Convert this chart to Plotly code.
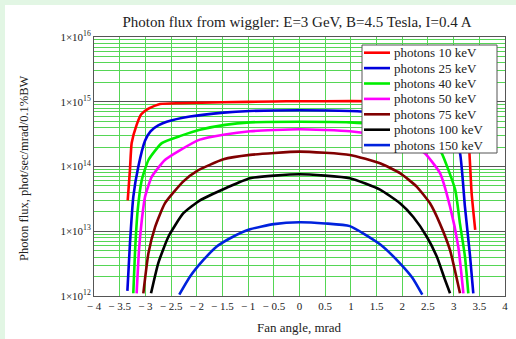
import plotly.graph_objects as go

# ---- data ----
series_names = ["photons 10 keV", "photons 25 keV", "photons 40 keV", "photons 50 keV",
                "photons 75 keV", "photons 100 keV", "photons 150 keV"]
series_colors = ["#ff0000", "#0000dd", "#00ee00", "#ff00ff", "#800000", "#000000", "#0022dd"]

x_10 = [-3.344, -3.30, -3.267, -3.17, -3.08, -2.94, -2.715, -2.33, -1.5, -0.5, 0.0, 0.5, 1.5,
        2.3, 2.7, 2.95, 3.1, 3.23, 3.29, 3.35, 3.42]
y_10 = [3.0e13, 8.9e13, 2.3e14, 4.4e14, 6.4e14, 7.8e14, 9.2e14, 9.5e14, 9.8e14, 1.01e15, 1.02e15,
        1.02e15, 1.02e15, 1.0e15, 9.5e14, 8.5e14, 7.1e14, 4.6e14, 2.6e14, 3.9e13, 1.05e13]

x_25 = [-3.35, -3.30, -3.235, -3.137, -3.007, -2.9, -2.75, -2.585, -2.13, -1.48, -0.963,
        0.0, 0.98, 1.5, 2.13, 2.6, 2.85, 3.0, 3.124, 3.22, 3.32, 3.383]
y_25 = [1.2e12, 6.5e12, 3.4e13, 1.0e14, 2.5e14, 3.5e14, 4.3e14, 4.9e14, 5.9e14, 6.8e14, 7.2e14,
        7.4e14, 7.2e14, 6.8e14, 5.9e14, 4.9e14, 4.0e14, 2.8e14, 1.6e14, 2.4e13, 4.1e12, 1.1e12]

x_40 = [-3.235, -3.2, -3.15, -3.07, -2.94, -2.68, -2.3, -1.94, -1.45, -0.963, 0.0, 0.98,
        1.43, 2.2, 2.5, 2.65, 2.77, 3.03, 3.124, 3.22, 3.286]
y_40 = [1.1e12, 5.1e12, 2.1e13, 6.2e13, 1.26e14, 2.3e14, 3.0e14, 3.7e14, 4.4e14, 4.8e14, 4.9e14,
        4.8e14, 4.5e14, 3.3e14, 2.7e14, 2.2e14, 1.6e14, 4.4e13, 1.3e13, 4.1e12, 1.1e12]

x_50 = [-3.17, -3.124, -3.07, -3.007, -2.877, -2.62, -2.33, -1.94, -1.48, -0.963, 0.0, 0.98,
        1.5, 1.95, 2.2, 2.44, 2.735, 2.93, 3.09, 3.19]
y_50 = [1.1e12, 5.1e12, 1.48e13, 3.4e13, 6.9e13, 1.26e14, 1.78e14, 2.6e14, 3.1e14, 3.5e14, 3.76e14,
        3.5e14, 3.1e14, 2.6e14, 2.1e14, 1.6e14, 7.9e13, 2.4e13, 5.8e12, 1.1e12]

x_75 = [-3.04, -2.94, -2.81, -2.62, -2.26, -2.0, -1.48, -0.963, 0.0, 0.98,
        1.567, 1.956, 2.28, 2.54, 2.735, 2.93, 3.124]
y_75 = [1.1e12, 4.6e12, 1.17e13, 2.7e13, 5.9e13, 8.5e13, 1.29e14, 1.51e14, 1.7e14,
        1.51e14, 1.12e14, 7.9e13, 4.9e13, 2.7e13, 1.3e13, 5.1e12, 1.1e12]

x_100 = [-2.89, -2.75, -2.55, -2.26, -1.937, -1.417, -0.963, 0.0, 0.98, 1.567,
         1.956, 2.215, 2.475, 2.67, 2.83, 2.93]
y_100 = [1.1e12, 3.2e12, 8.3e12, 1.9e13, 3.0e13, 4.7e13, 6.6e13, 7.6e13, 6.6e13,
         4.4e13, 2.7e13, 1.66e13, 8.3e12, 4.1e12, 1.8e12, 1.1e12]

x_150 = [-2.34, -2.13, -1.87, -1.61, -1.35, -0.963, -0.5, 0.0, 0.5, 0.98, 1.567, 1.956, 2.2, 2.39]
y_150 = [1.05e12, 2.0e12, 3.6e12, 5.8e12, 7.8e12, 1.07e13, 1.29e13, 1.38e13, 1.32e13, 1.2e13,
         6.3e12, 3.2e12, 1.9e12, 1.05e12]

x_tick_vals = [-4, -3.5, -3, -2.5, -2, -1.5, -1, -0.5, 0, 0.5, 1, 1.5, 2, 2.5, 3, 3.5, 4]
x_tick_text = ["\u2212 4", "\u2212 3.5", "\u2212 3", "\u2212 2.5", "\u2212 2", "\u2212 1.5",
               "\u2212 1", "\u2212 0.5", "0", "0.5", "1", "1.5", "2", "2.5", "3", "3.5", "4"]
y_tick_vals = [1e12, 1e13, 1e14, 1e15, 1e16]
y_tick_text = ["1\u00d710<sup>12</sup>", "1\u00d710<sup>13</sup>", "1\u00d710<sup>14</sup>",
               "1\u00d710<sup>15</sup>", "1\u00d710<sup>16</sup>"]

title_text = "Photon flux from wiggler: E=3 GeV, B=4.5 Tesla, I=0.4 A"
x_title = "Fan angle, mrad"
y_title = "Photon flux, phot/sec/mrad/0.1%BW"

xs = [x_10, x_25, x_40, x_50, x_75, x_100, x_150]
ys = [y_10, y_25, y_40, y_50, y_75, y_100, y_150]

FONT = "Liberation Serif"
TXT = "#222222"
W, H = 516, 339
L, R, T, B = 94, 11, 37, 43
PW, PH = W - L - R, H - T - B


def px_x(px):
    return (px - L) / PW


def px_y(py):
    return (H - B - py) / PH


fig = go.Figure()
for name, col, x, y in zip(series_names, series_colors, xs, ys):
    fig.add_trace(go.Scatter(x=x, y=y, mode="lines", name=name, showlegend=False,
                             line=dict(color=col, width=2.6, shape="spline", smoothing=0.5)))

grid_green = "#55d655"
fig.update_xaxes(range=[-4, 4], tickvals=x_tick_vals, ticktext=x_tick_text, automargin=False,
                 showgrid=True, gridcolor=grid_green, gridwidth=1,
                 zeroline=False, showline=True, linecolor="#555555", linewidth=1, mirror=True,
                 ticks="", ticklabelstandoff=0, tickfont=dict(family=FONT, size=11, color=TXT))
fig.update_yaxes(type="log", range=[12, 16], tickvals=y_tick_vals, ticktext=y_tick_text,
                 automargin=False,
                 showgrid=True, gridcolor="#555555", gridwidth=1,
                 minor=dict(showgrid=True, gridcolor=grid_green, gridwidth=1, dtick="D1", ticks=""),
                 zeroline=False, showline=True, linecolor="#555555", linewidth=1, mirror=True,
                 ticks="", tickfont=dict(family=FONT, size=11, color=TXT))

# axis titles
fig.add_annotation(text=x_title, xref="paper", yref="paper", x=px_x(299), y=px_y(327),
                   xanchor="center", yanchor="middle",
                   showarrow=False, font=dict(family=FONT, size=13, color=TXT))
fig.add_annotation(text=y_title, xref="paper", yref="paper", x=px_x(24), y=px_y(168),
                   xanchor="center", yanchor="middle",
                   textangle=-90, showarrow=False, font=dict(family=FONT, size=12.5, color=TXT))

# legend box (drawn from the series names/colours)
lg_x0, lg_x1, lg_y0, lg_y1 = 362, 497, 45, 153
fig.add_shape(type="rect", xref="paper", yref="paper", x0=px_x(lg_x0), x1=px_x(lg_x1),
              y0=px_y(lg_y1), y1=px_y(lg_y0), fillcolor="white",
              line=dict(color="#555555", width=1), layer="above")
row_first, row_step = 52.7, 15.4
for i, (name, col) in enumerate(zip(series_names, series_colors)):
    ry = row_first + i * row_step
    fig.add_shape(type="line", xref="paper", yref="paper", x0=px_x(364), x1=px_x(390),
                  y0=px_y(ry), y1=px_y(ry), line=dict(color=col, width=2.6), layer="above")
    fig.add_annotation(text=name, xref="paper", yref="paper", x=px_x(392), y=px_y(ry),
                       xanchor="left", yanchor="middle", showarrow=False,
                       font=dict(family=FONT, size=13, color=TXT))

# decorative checker border strips (left and top)
border = "#e2f6e4"
fig.add_shape(type="rect", xref="paper", yref="paper", layer="below", line_width=0,
              fillcolor=border, x0=-L / PW, x1=(-L + 5) / PW, y0=-B / PH, y1=1 + T / PH)
fig.add_shape(type="rect", xref="paper", yref="paper", layer="below", line_width=0,
              fillcolor=border, x0=-L / PW, x1=1 + R / PW, y0=1 + (T - 5) / PH, y1=1 + T / PH)

fig.update_layout(
    width=W, height=H,
    margin=dict(l=L, r=R, t=T, b=B),
    paper_bgcolor="white", plot_bgcolor="white",
    font=dict(family=FONT, color=TXT),
    title=dict(text=title_text, font=dict(family=FONT, size=15, color=TXT),
               x=297 / W, xanchor="center", y=1 - 22 / H, yanchor="middle"),
    showlegend=False,
)

fig.write_html("out.html")
